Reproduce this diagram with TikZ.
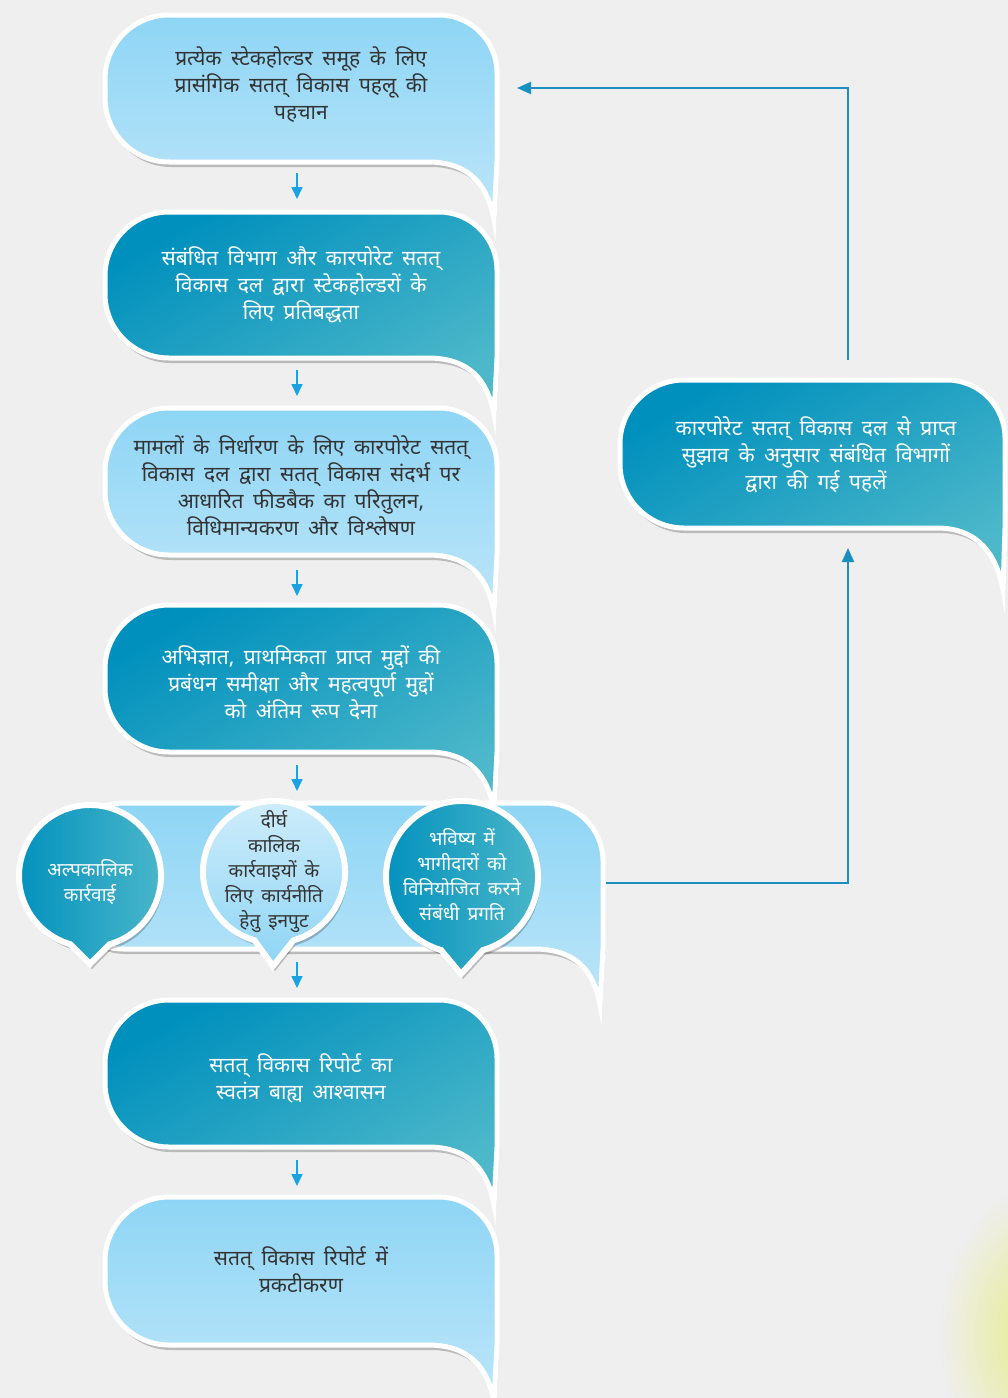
\documentclass[tikz,border=0pt]{standalone}
\usepackage{fontspec}
\newfontfamily\hin[Script=Devanagari]{Noto Sans}
\usetikzlibrary{arrows.meta,shadows,fadings}
\tikzfading[name=blobfade, inner color=transparent!0, outer color=transparent!100]
\definecolor{bg}{HTML}{EFEFEF}
\definecolor{lt1}{HTML}{8ED5F5}
\definecolor{lt2}{HTML}{BDE6F9}
\definecolor{dk1}{HTML}{0090BD}
\definecolor{dk2}{HTML}{4DB8CA}
\definecolor{txtd}{HTML}{333333}
\definecolor{conncol}{HTML}{1A8FC0}
\definecolor{arrcol}{HTML}{1AA3E2}
\definecolor{blob}{HTML}{E6EC80}
\newcommand\spbubble[7]{%
  \path[#7] (#1,{(#2+#4)/2}) [rounded corners=64pt] -- (#1,#2) [rounded corners=58pt] -- (#3,#2) [sharp corners] -- (#3,#4) -- (#5,#6)
   .. controls ({#5-6},{#6-34}) and ({#5-24},#4) .. ({#5-66},#4) [rounded corners=64pt] -- (#1,#4) [sharp corners] -- cycle;}
\newcommand\circbub[6]{%
  \path[#6] (#4,#5) -- ({#1+0.276*#3},{#2+0.961*#3}) arc[start angle=74, end angle=-254, radius=#3] -- cycle;}
\newcommand\sizeA{\fontsize{21}{27}\selectfont\lineskiplimit=-100pt\spaceskip=9.5pt plus 2pt}
\newcommand\sizeB{\fontsize{19}{25}\selectfont\lineskiplimit=-100pt\spaceskip=8pt plus 2pt}
\tikzset{
  shad/.style={drop shadow={shadow xshift=2pt, shadow yshift=-5pt, opacity=0.22, fill=black}},
  lightb/.style={top color=lt1, bottom color=lt2, draw=white, line width=5pt, shad},
  darkb/.style={top color=dk1, bottom color=dk2, shading angle=30, draw=white, line width=5pt, shad},
  lightc/.style={top color=lt2!70!white, bottom color=lt1, draw=white, line width=6pt, shad},
  darkc/.style={left color=dk1, right color=dk2, draw=white, line width=6pt, shad},
  txt/.style={font=\hin\sizeA, align=center, inner sep=0pt},
  ctxt/.style={font=\hin\sizeB, align=center, inner sep=0pt},
  conn/.style={draw=conncol, line width=2pt, -{Triangle[width=12pt,length=14pt]}},
  darr/.style={draw=arrcol, line width=1.6pt, -{Triangle[width=11pt,length=12pt]}}
}
\begin{document}
\begin{tikzpicture}[x=1pt,y=-1pt]
\useasboundingbox (0,0) rectangle (1008,1398);
\fill[bg] (0,0) rectangle (1008,1398);
\fill[blob, path fading=blobfade] (1045,1335) ellipse[x radius=105, y radius=150];
% main column bubbles
\spbubble{105}{15}{497}{162}{494}{220}{lightb}
\spbubble{105}{212}{497}{358}{494}{415}{darkb}
\spbubble{105}{408}{497}{555}{494}{612}{lightb}
\spbubble{105}{605}{497}{752}{494}{810}{darkb}
% band
\spbubble{60}{803}{603}{949}{600}{1005}{lightb}
% circles
\circbub{90}{876}{71}{90}{964}{darkc}
\circbub{274}{872}{71}{273}{966}{lightc}
\circbub{462}{877}{76}{461}{974}{darkc}
\spbubble{105}{1000}{497}{1147}{494}{1205}{darkb}
\spbubble{105}{1197}{497}{1345}{494}{1402}{lightb}
% right bubble
\spbubble{620}{380}{1005}{528}{1003}{590}{darkb}
% texts
\node[txt, text=txtd] (b1) at (301,85) {प्रत्येक स्टेकहोल्डर समूह के लिए\\प्रासंगिक सतत् विकास पहलू की\\पहचान};
\node[txt, text=white] (b2) at (301,285) {संबंधित विभाग और कारपोरेट सतत्\\विकास दल द्वारा स्टेकहोल्डरों के\\लिए प्रतिबद्धता};
\node[txt, text=txtd] (b3) at (301,486) {मामलों के निर्धारण के लिए कारपोरेट सतत्\\विकास दल द्वारा सतत् विकास संदर्भ पर\\आधारित फीडबैक का परितुलन,\\विधिमान्यकरण और विश्लेषण};
\node[txt, text=white] (b4) at (301,683) {अभिज्ञात, प्राथमिकता प्राप्त मुद्दों की\\प्रबंधन समीक्षा और महत्वपूर्ण मुद्दों\\को अंतिम रूप देना};
\node[ctxt, text=white] (c1) at (90,882) {अल्पकालिक\\कार्रवाई};
\node[ctxt, text=txtd] (c2) at (274,872) {दीर्घ\\कालिक\\कार्रवाइयों के\\लिए कार्यनीति\\हेतु इनपुट};
\node[ctxt, text=white] (c3) at (462,875) {भविष्य में\\भागीदारों को\\विनियोजित करने\\संबंधी प्रगति};
\node[txt, text=white] (b6) at (301,1078) {सतत् विकास रिपोर्ट का\\स्वतंत्र बाह्य आश्वासन};
\node[txt, text=txtd] (b7) at (301,1270) {सतत् विकास रिपोर्ट में\\प्रकटीकरण};
\node[txt, text=white] (r) at (816,455) {कारपोरेट सतत् विकास दल से प्राप्त\\सुझाव के अनुसार संबंधित विभागों\\द्वारा की गई पहलें};
% down arrows
\foreach \i/\ya/\yb in {1/173/199,2/370/396,3/570/596,4/765/791,5/962/988,6/1160/1186}{
  \coordinate (ds\i) at (297,\ya);
  \coordinate (de\i) at (297,\yb);
  \draw[darr] (ds\i) -- (de\i);
}
% connectors
\coordinate (bandR) at (606,883);
\coordinate (rBot) at (848,548);
\coordinate (rTop) at (848,360);
\coordinate (b1R) at (517,88);
\draw[conn] (bandR) -| (rBot);
\draw[conn] (rTop) |- (b1R);
\end{tikzpicture}
\end{document}
